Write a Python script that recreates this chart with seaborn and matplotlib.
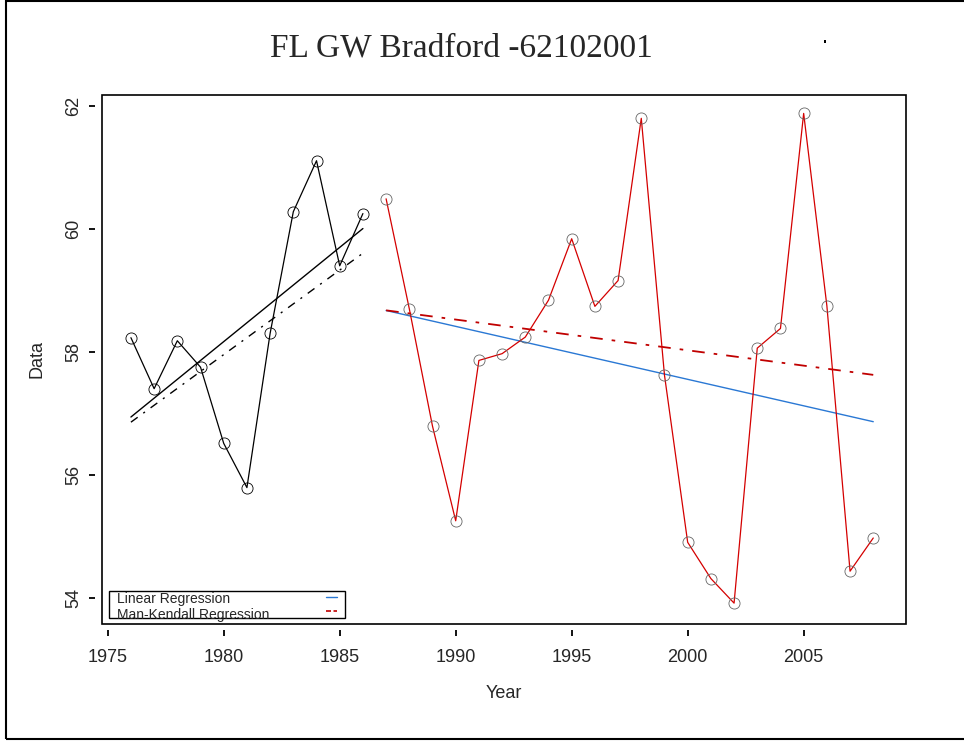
import numpy as np
import pandas as pd
import seaborn as sns
import matplotlib.pyplot as plt
from matplotlib.patches import Rectangle

# values
years_early = [1976, 1977, 1978, 1979, 1980, 1981, 1982, 1983, 1984, 1985, 1986]
data_early = [58.23, 57.40, 58.18, 57.75, 56.51, 55.79, 58.30, 60.28, 61.11, 59.40, 60.25]

years_late = [1987, 1988, 1989, 1990, 1991, 1992, 1993, 1994, 1995, 1996, 1997,
              1998, 1999, 2000, 2001, 2002, 2003, 2004, 2005, 2006, 2007, 2008]
data_late = [60.49, 58.70, 56.79, 55.25, 57.86, 57.97, 58.24, 58.84, 59.84, 58.74, 59.16,
             61.80, 57.62, 54.90, 54.31, 53.91, 58.06, 58.38, 61.88, 58.75, 54.43, 54.97]

x_ticks = [1975, 1980, 1985, 1990, 1995, 2000, 2005]
y_ticks = [54, 56, 58, 60, 62]
title = "FL GW Bradford -62102001"
legend_labels = ["Linear Regression", "Man-Kendall Regression"]


def sen_line(x, y):
    # Theil-Sen (Mann-Kendall) slope, line through the medians
    x = np.asarray(x, float)
    y = np.asarray(y, float)
    i, j = np.triu_indices(len(x), 1)
    slope = np.median((y[j] - y[i]) / (x[j] - x[i]))
    icpt = np.median(y) - slope * np.median(x)
    return slope * x + icpt


df_early = pd.DataFrame({'year': years_early, 'value': data_early})
df_late = pd.DataFrame({'year': years_late, 'value': data_late})
df_early['sen'] = sen_line(years_early, data_early)
df_late['sen'] = sen_line(years_late, data_late)

sns.set_style("white")
plt.rcParams['font.family'] = ['Liberation Sans', 'DejaVu Sans']

fig = plt.figure(figsize=(9.64, 7.42), dpi=100)
ax = fig.add_axes([0.1055, 0.159, 0.8343, 0.713])

# regression lines
sns.regplot(data=df_early, x='year', y='value', scatter=False, ci=None,
            color='black', line_kws={'lw': 1.0}, ax=ax)
sns.regplot(data=df_late, x='year', y='value', scatter=False, ci=None,
            color='#2a78d4', line_kws={'lw': 1.0}, ax=ax)

# Mann-Kendall lines
sns.lineplot(data=df_early, x='year', y='sen', color='black', lw=1.0,
             linestyle=(0, (6, 5, 1.5, 5)), ax=ax)
sns.lineplot(data=df_late, x='year', y='sen', color='#c00000', lw=1.3,
             linestyle=(0, (7, 5, 2, 5)), ax=ax)

# data series
sns.lineplot(data=df_early, x='year', y='value', color='black', lw=0.9,
             marker='o', markersize=8, markerfacecolor='none',
             markeredgecolor='black', markeredgewidth=0.6, ax=ax)
sns.lineplot(data=df_late, x='year', y='value', color='#d40000', lw=0.9,
             marker='o', markersize=8, markerfacecolor='none',
             markeredgecolor='#666666', markeredgewidth=0.6, ax=ax)

# detached ticks like the original, box drawn separately
for s in ['left', 'bottom']:
    ax.spines[s].set_position(('outward', 4.5))
for s in ax.spines.values():
    s.set_visible(False)
ax.add_patch(Rectangle((0, 0), 1, 1, transform=ax.transAxes, fill=False,
                       lw=1.2, ec='black', clip_on=False, zorder=5))

ax.set_xlim(1974.74, 2009.41)
ax.set_ylim(53.57, 62.18)
ax.set_xticks(x_ticks)
ax.set_yticks(y_ticks)
ax.set_xticklabels([str(t) for t in x_ticks])
ax.set_yticklabels([str(t) for t in y_ticks])
ax.tick_params(axis='both', direction='out', length=4.5, width=1.3,
               labelsize=13, color='black', left=True, bottom=True)
ax.tick_params(axis='x', pad=9)
ax.tick_params(axis='y', pad=5, labelrotation=90)
for lab in ax.get_yticklabels():
    lab.set_va('center')

ax.set_xlabel("Year", fontsize=13, labelpad=14)
ax.set_ylabel("Data", fontsize=13, labelpad=14)

# legend box, R style
box = Rectangle((0.009, 0.012), 0.294, 0.051, transform=ax.transAxes,
                fill=True, fc='white', ec='black', lw=1.0, zorder=6)
ax.add_patch(box)
t1 = ax.text(0.0194, 0.047, legend_labels[0], transform=ax.transAxes,
             fontsize=10, va='center', zorder=7)
t2 = ax.text(0.0194, 0.017, legend_labels[1], transform=ax.transAxes,
             fontsize=10, va='center', zorder=7)
t2.set_clip_path(box)
ax.plot([0.279, 0.293], [0.0516, 0.0516], transform=ax.transAxes,
        color='#2a78d4', lw=1.0, zorder=7)
ax.plot([0.279, 0.293], [0.0246, 0.0246], transform=ax.transAxes,
        color='#c00000', lw=1.2, ls=(0, (3, 1.5)), zorder=7)

fig.text(0.479, 1 - 48 / 742, title, ha='center', va='center',
         fontsize=24, family='Liberation Serif')

# stray mark and outer frame
fig.add_artist(Rectangle((0.855, 0.942), 0.002, 0.004, transform=fig.transFigure,
                         fc='black', ec='none'))
fig.add_artist(Rectangle((0.0062, 0.004), 1.0, 0.994, transform=fig.transFigure,
                         fill=False, lw=1.5, ec='black'))

fig.savefig('out.png', dpi=100)
